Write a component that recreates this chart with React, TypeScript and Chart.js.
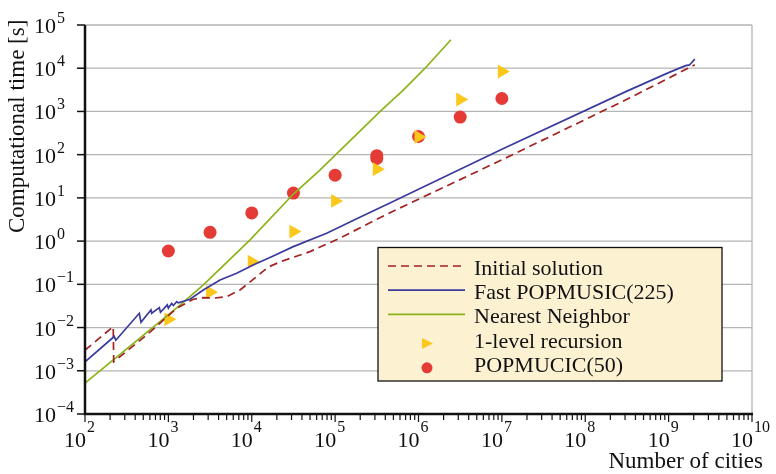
import React, { useEffect, useRef } from 'react';
import { Chart, registerables } from 'chart.js';

Chart.register(...registerables);

const FONT = "'Liberation Serif', 'Times New Roman', serif";

// ---- data ----
const initialX = [100, 218, 221, 548, 1259, 1995, 2630, 3467, 5012, 7230, 10400, 15800, 21900, 49900, 114000, 414000, 1e7, 3.16e8, 2.06e9];
const initialY = [0.003, 0.0105, 0.00162, 0.0067, 0.028, 0.0452, 0.0492, 0.0479, 0.0519, 0.0741, 0.13, 0.251, 0.331, 0.571, 1.17, 4.17, 75.9, 1905, 12000];

const fastX = [100, 224, 234, 448, 469, 618, 631, 778, 804, 970, 1000, 1096, 1148, 1259, 1318, 1816, 2624, 4160, 6590, 10400, 18100, 31500, 79100, 198000, 454000, 1e7, 3.16e8, 1e9, 1.6e9, 1.78e9, 2.06e9];
const fastY = [0.0016, 0.0062, 0.0051, 0.0214, 0.0133, 0.0255, 0.0214, 0.0289, 0.0226, 0.0333, 0.0282, 0.0363, 0.0324, 0.0398, 0.0372, 0.0452, 0.0741, 0.126, 0.181, 0.281, 0.454, 0.746, 1.52, 3.55, 7.6, 133, 2950, 7900, 11500, 11900, 16200];

const nnX = [100, 1380, 2630, 9550, 31600, 66100, 347000, 661000, 1.2e6, 2.45e6];
const nnY = [0.00052, 0.0331, 0.0977, 1.07, 12.3, 44.7, 1000, 3160, 10000, 45700];

const recX = [1000, 3162, 10000, 31620, 100000, 316200, 1e6, 3.162e6, 1e7];
const recY = [0.0155, 0.066, 0.335, 1.66, 8.5, 46, 258, 1885, 8400];

const popX = [1000, 3162, 10000, 31620, 100000, 316200, 316200, 1e6, 3.162e6, 1e7];
const popY = [0.59, 1.6, 4.5, 12.9, 33.5, 95, 82, 263, 740, 1990];

const seriesLabels = ['Initial solution', 'Fast POPMUSIC(225)', 'Nearest Neighbor', '1-level recursion', 'POPMUCIC(50)'];
const xDecades = [2, 3, 4, 5, 6, 7, 8, 9, 10];
const yDecades = [-4, -3, -2, -1, 0, 1, 2, 3, 4, 5];
const xTitle = 'Number of cities';
const yTitle = 'Computational time [s]';

const zip = (xs: number[], ys: number[]) => xs.map((x, i) => ({ x, y: ys[i] }));

const supText = (d: number) => (d < 0 ? '\u2212' + Math.abs(d) : String(d));

const decoPlugin = {
  id: 'deco',
  beforeDatasetsDraw(chart: any) {
    const { ctx, chartArea: a, scales } = chart;
    ctx.save();
    ctx.strokeStyle = '#b5b5b5';
    ctx.lineWidth = 1.3;
    for (const d of yDecades) {
      const py = scales.y.getPixelForValue(Math.pow(10, d));
      ctx.beginPath();
      ctx.moveTo(a.left, py);
      ctx.lineTo(a.right, py);
      ctx.stroke();
    }
    ctx.beginPath();
    ctx.moveTo(a.right, a.top);
    ctx.lineTo(a.right, a.bottom);
    ctx.stroke();
    ctx.restore();
  },
  afterDraw(chart: any) {
    const { ctx, chartArea: a, scales } = chart;
    const xs = scales.x;
    const ys = scales.y;
    ctx.save();
    // axes
    ctx.strokeStyle = '#111';
    ctx.lineWidth = 2.5;
    ctx.beginPath();
    ctx.moveTo(a.left, a.top);
    ctx.lineTo(a.left, a.bottom);
    ctx.lineTo(a.right + 1, a.bottom);
    ctx.stroke();
    // y ticks
    ctx.lineWidth = 1.5;
    for (const d of yDecades) {
      const py = ys.getPixelForValue(Math.pow(10, d));
      ctx.beginPath();
      ctx.moveTo(a.left - 8, py);
      ctx.lineTo(a.left, py);
      ctx.stroke();
    }
    // x ticks
    ctx.lineWidth = 1.2;
    for (const d of xDecades) {
      for (let k = 1; k <= 9; k++) {
        if (d === 10 && k > 1) break;
        const px = xs.getPixelForValue(k * Math.pow(10, d));
        ctx.beginPath();
        ctx.moveTo(px, a.bottom);
        ctx.lineTo(px, a.bottom + (k === 1 ? 8 : 6));
        ctx.stroke();
      }
    }
    // tick labels
    ctx.fillStyle = '#111';
    ctx.textBaseline = 'alphabetic';
    for (const d of yDecades) {
      const py = ys.getPixelForValue(Math.pow(10, d));
      ctx.font = `22px ${FONT}`;
      ctx.textAlign = 'left';
      ctx.fillText('10', 34, py + 8);
      const w = ctx.measureText('10').width;
      ctx.font = `16px ${FONT}`;
      ctx.fillText(supText(d), 34 + w + 1, py - 2);
    }
    for (const d of xDecades) {
      const px = xs.getPixelForValue(Math.pow(10, d));
      ctx.font = `22px ${FONT}`;
      ctx.textAlign = 'right';
      ctx.fillText('10', px + 1, 447);
      ctx.font = `16px ${FONT}`;
      ctx.textAlign = 'left';
      ctx.fillText(supText(d), px + 2, 432);
    }
    // axis titles
    ctx.font = `23px ${FONT}`;
    ctx.textAlign = 'right';
    ctx.fillText(xTitle, 763, 468);
    ctx.save();
    ctx.translate(24, 233);
    ctx.rotate(-Math.PI / 2);
    ctx.textAlign = 'left';
    ctx.fillText(yTitle, 0, 0);
    ctx.restore();

    // legend
    const bx = 378, by = 247.5, bw = 344, bh = 133.5;
    ctx.fillStyle = '#fcf2d2';
    ctx.fillRect(bx, by, bw, bh);
    ctx.strokeStyle = '#111';
    ctx.lineWidth = 1.3;
    ctx.strokeRect(bx, by, bw, bh);
    const datasets = chart.data.datasets;
    datasets.forEach((ds: any, i: number) => {
      const base = 275 + i * 24.2;
      if (ds.showLine) {
        const ly = base - 9;
        ctx.strokeStyle = ds.borderColor;
        ctx.lineWidth = ds.borderWidth;
        ctx.setLineDash(ds.borderDash || []);
        ctx.beginPath();
        ctx.moveTo(388, ly);
        ctx.lineTo(465, ly);
        ctx.stroke();
        ctx.setLineDash([]);
      } else {
        const my = base - 4;
        const mx = 427;
        ctx.fillStyle = ds.backgroundColor;
        if (ds.pointStyle === 'triangle') {
          ctx.beginPath();
          ctx.moveTo(mx + 6, my);
          ctx.lineTo(mx - 5, my - 5.5);
          ctx.lineTo(mx - 5, my + 5.5);
          ctx.closePath();
          ctx.fill();
        } else {
          ctx.beginPath();
          ctx.arc(mx, my, 5.5, 0, Math.PI * 2);
          ctx.fill();
        }
      }
      ctx.fillStyle = '#111';
      ctx.font = `22px ${FONT}`;
      ctx.textAlign = 'left';
      ctx.fillText(ds.label, 474, base);
    });
    ctx.restore();
  },
};

export default function App() {
  const ref = useRef<HTMLCanvasElement | null>(null);
  useEffect(() => {
    if (!ref.current) return;
    const chart = new Chart(ref.current, {
      type: 'scatter',
      data: {
        datasets: [
          {
            label: seriesLabels[0],
            data: zip(initialX, initialY),
            showLine: true,
            borderColor: '#a32222',
            backgroundColor: '#a32222',
            borderWidth: 1.7,
            borderDash: [8, 5],
            pointRadius: 0,
            tension: 0,
            order: 2,
          },
          {
            label: seriesLabels[1],
            data: zip(fastX, fastY),
            showLine: true,
            borderColor: '#3b3b9e',
            backgroundColor: '#3b3b9e',
            borderWidth: 1.7,
            pointRadius: 0,
            tension: 0,
            order: 1,
          },
          {
            label: seriesLabels[2],
            data: zip(nnX, nnY),
            showLine: true,
            borderColor: '#8db31b',
            backgroundColor: '#8db31b',
            borderWidth: 1.7,
            pointRadius: 0,
            tension: 0,
            order: 3,
          },
          {
            label: seriesLabels[3],
            data: zip(recX, recY),
            showLine: false,
            pointStyle: 'triangle',
            rotation: 90,
            pointRadius: 8,
            backgroundColor: '#fbc71a',
            borderColor: '#fbc71a',
            borderWidth: 0,
            order: 4,
          },
          {
            label: seriesLabels[4],
            data: zip(popX, popY),
            showLine: false,
            pointStyle: 'circle',
            pointRadius: 6.5,
            backgroundColor: '#e43b36',
            borderColor: '#e43b36',
            borderWidth: 0,
            order: 5,
          },
        ],
      } as any,
      options: {
        responsive: false,
        animation: false,
        devicePixelRatio: 1,
        events: [],
        layout: { padding: { left: 85, top: 25, right: 24, bottom: 60 } },
        plugins: { legend: { display: false }, tooltip: { enabled: false } },
        scales: {
          x: { type: 'logarithmic', min: 100, max: 1e10, display: false },
          y: { type: 'logarithmic', min: 1e-4, max: 1e5, display: false },
        },
      } as any,
      plugins: [decoPlugin],
    });
    return () => chart.destroy();
  }, []);
  return (
    <canvas
      ref={ref}
      width={776}
      height={474}
      style={{ position: 'fixed', left: 0, top: 0, display: 'block', background: '#fff' }}
    />
  );
}
